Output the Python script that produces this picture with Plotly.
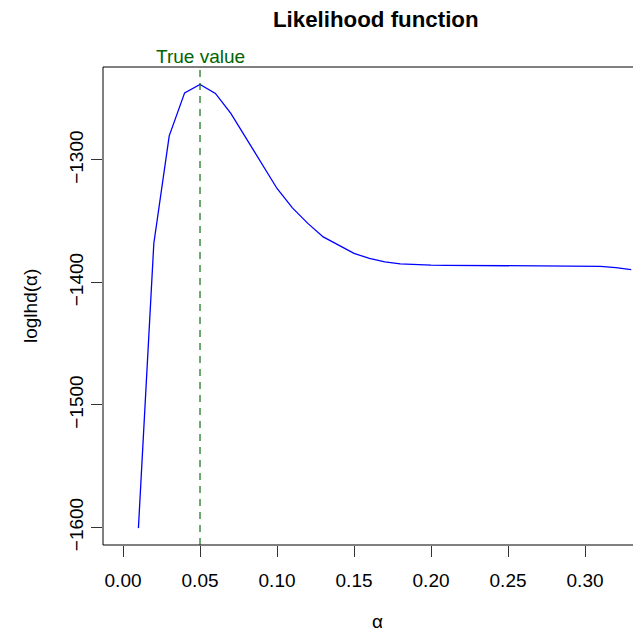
import plotly.graph_objects as go

alpha = [0.01, 0.02, 0.03, 0.04, 0.05, 0.06, 0.07, 0.08, 0.09, 0.10, 0.11,
         0.12, 0.13, 0.14, 0.15, 0.16, 0.17, 0.18, 0.19, 0.20, 0.21, 0.22,
         0.23, 0.24, 0.25, 0.26, 0.27, 0.28, 0.29, 0.30, 0.31, 0.32, 0.33]
loglhd = [-1600.6, -1368.2, -1280.3, -1245.2, -1238.4, -1245.7, -1262.0,
          -1282.8, -1303.4, -1323.3, -1339.1, -1351.8, -1362.8, -1369.6,
          -1376.3, -1380.4, -1383.2, -1384.8, -1385.5, -1385.9, -1386.0,
          -1386.1, -1386.1, -1386.1, -1386.1, -1386.1, -1386.1, -1386.1,
          -1386.2, -1386.4, -1386.9, -1387.9, -1389.6]
true_alpha = 0.05
x_ticks = [0.00, 0.05, 0.10, 0.15, 0.20, 0.25, 0.30]
x_tick_labels = ["0.00", "0.05", "0.10", "0.15", "0.20", "0.25", "0.30"]
y_ticks = [-1600, -1500, -1400, -1300]
y_tick_labels = ["\u22121600", "\u22121500", "\u22121400", "\u22121300"]

FONT = "Liberation Sans, Arial, Helvetica, sans-serif"
BASE = 19
OFF = 8  # browser body margin
PL, PT, PH = 103 - OFF, 67 - OFF, 478
PW = 641 - PL
XMIN = -0.013
XMAX = XMIN + PW / 1540.0

fig = go.Figure()
fig.add_trace(go.Scatter(x=alpha, y=loglhd, mode="lines",
                         line=dict(color="#0000FF", width=1.3),
                         showlegend=False, hoverinfo="skip"))

# true value dashed line
fig.add_shape(type="line", xref="x", yref="paper", x0=true_alpha, x1=true_alpha,
              y0=0, y1=1, line=dict(color="rgba(0,100,0,0.7)", width=1.6, dash="7px,6px"))
# box (left, top, bottom) - right side lies outside the picture
for (x0, y0, x1, y1) in [(0, 0, 0, 1), (0, 1, 1, 1), (0, 0, 1, 0)]:
    fig.add_shape(type="line", xref="paper", yref="paper", x0=x0, y0=y0, x1=x1, y1=y1,
                  line=dict(color="black", width=1))

fig.add_annotation(x=true_alpha, xref="x", y=1, yref="paper", yshift=11,
                   text="True value", showarrow=False, yanchor="middle",
                   font=dict(family=FONT, size=BASE, color="#006400"))
fig.add_annotation(x=(376 - OFF - PL) / PW, xref="paper", y=1 + (PT - (20 - OFF)) / PH,
                   yref="paper", text="<b>Likelihood function</b>", showarrow=False,
                   xanchor="center", yanchor="middle",
                   font=dict(family=FONT, size=22.3, color="black"))
fig.add_annotation(x=(377 - OFF - PL) / PW, xref="paper", y=-(621 - 545) / PH, yref="paper",
                   text="\u03b1", showarrow=False, yanchor="middle", xanchor="center",
                   font=dict(family=FONT, size=BASE, color="black"))
fig.add_annotation(x=-(PL - (30 - OFF)) / PW, xref="paper", y=0.5, yref="paper",
                   text="loglhd(\u03b1)", showarrow=False, textangle=-90,
                   xanchor="center", yanchor="middle",
                   font=dict(family=FONT, size=BASE, color="black"))

fig.update_layout(
    width=641, height=641,
    margin=dict(l=PL, r=0, t=PT, b=641 - PT - PH),
    plot_bgcolor="white", paper_bgcolor="white",
    font=dict(family=FONT, size=BASE, color="black"),
    xaxis=dict(range=[XMIN, XMAX], tickvals=x_ticks, ticktext=x_tick_labels,
               ticks="outside", ticklen=11, tickcolor="#333333", tickwidth=1,
               showgrid=False, zeroline=False, showline=False,
               ticklabelstandoff=7, tickfont=dict(size=BASE)),
    yaxis=dict(range=[-1614.4, -1224.1], tickvals=y_ticks, ticktext=y_tick_labels,
               ticks="outside", ticklen=11, tickcolor="#333333", tickwidth=1,
               showgrid=False, zeroline=False, showline=False, tickangle=-90,
               ticklabelstandoff=0, tickfont=dict(size=BASE)),
)
fig.write_html("out.html")
